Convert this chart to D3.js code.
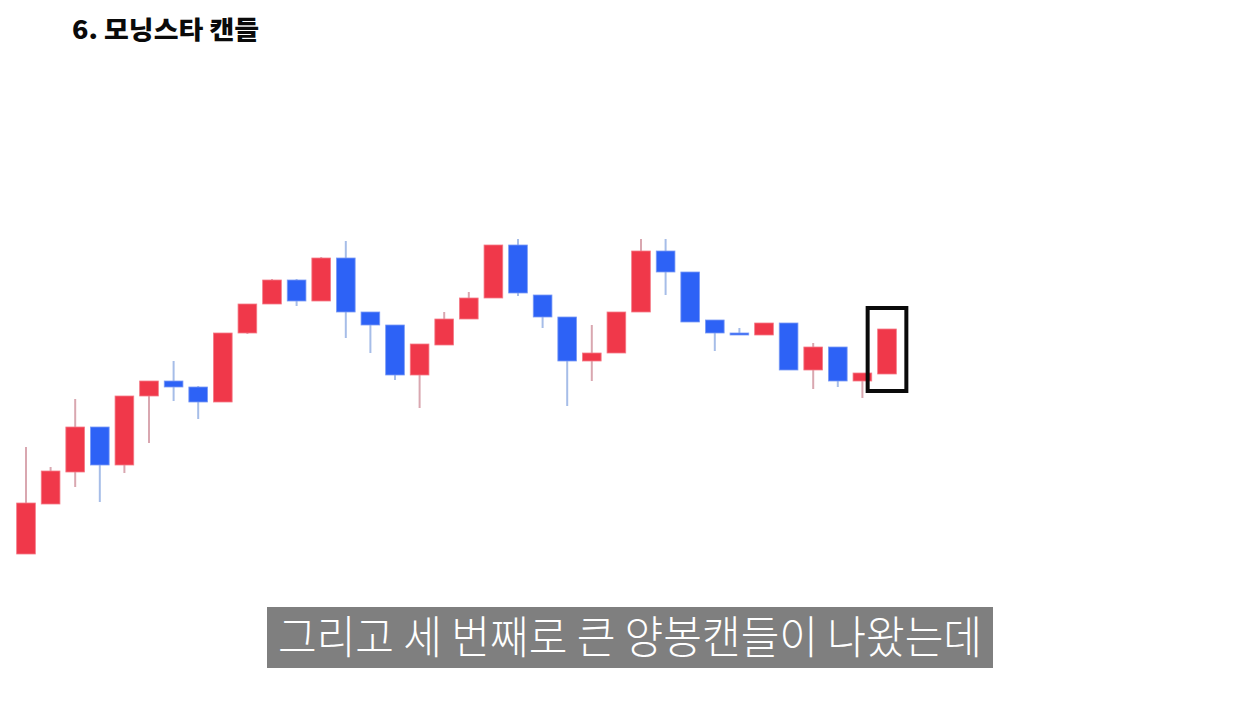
<!DOCTYPE html>
<html>
<head>
<meta charset="utf-8">
<script src="https://cdn.jsdelivr.net/npm/d3@7"></script>
<style>
  html, body { margin: 0; padding: 0; background: #ffffff; }
  svg { display: block; }
</style>
</head>
<body>
<svg id="chart" width="1260" height="704"></svg>
<script>
// ---- data ----
const titleText = "6. 모닝스타 캔들";
const captionText = "그리고 세 번째로 큰 양봉캔들이 나왔는데";
const candleIds = d3.range(1, 37);
const opens  = [1006,1056,1088,1133,1095,1164,1179,1173,1158,1227,1256,1280,1259,1302,1248,1235,1185,1215,1241,1262,1315,1265,1243,1199,1207,1248,1309,1288,1240,1227,1225,1237,1190,1213,1179,1186];
const closes = [1057,1089,1133,1095,1164,1179,1173,1158,1227,1256,1280,1259,1302,1248,1235,1185,1216,1241,1262,1315,1267,1243,1199,1207,1248,1309,1288,1238,1227,1225,1237,1190,1213,1179,1187,1231];
const highs  = [1113,1093,1161,1133,1164,1179,1199,1174,1227,1256,1281,1281,1303,1319,1248,1235,1216,1248,1268,1315,1321,1265,1243,1235,1248,1321,1321,1288,1240,1232,1237,1237,1217,1213,1187,1231];
const lows   = [1006,1056,1073,1058,1087,1117,1159,1141,1158,1226,1256,1254,1259,1222,1207,1180,1152,1215,1241,1262,1264,1232,1154,1179,1207,1248,1265,1238,1209,1225,1225,1190,1171,1173,1162,1186];
const highlighted = [36];

const candles = candleIds.map((id, i) => ({
  id, open: opens[i], close: closes[i], high: highs[i], low: lows[i]
}));

// ---- layout ----
const svg = d3.select("#chart");
const upColor = "#f0384a", downColor = "#2d62f6";
const upWick = "#d9a7b0", downWick = "#a6bde8";

const x = d3.scalePoint().domain(candleIds).range([26, 887]);
const y = d3.scaleLinear().domain([1000, 1340]).range([560, 220]);
const bodyW = x.step() * 0.76;

// title
svg.append("text")
  .attr("x", 72).attr("y", 39)
  .attr("font-family", "'Noto Sans CJK KR', 'Noto Sans', sans-serif")
  .attr("font-weight", 900)
  .attr("font-size", 25)
  .attr("fill", "#0a0a0a")
  .attr("textLength", 187)
  .attr("lengthAdjust", "spacingAndGlyphs")
  .text(titleText);

const g = svg.append("g");

// wicks
g.selectAll("line.wick").data(candles).join("line")
  .attr("class", "wick")
  .attr("x1", d => x(d.id)).attr("x2", d => x(d.id))
  .attr("y1", d => y(d.high)).attr("y2", d => y(d.low))
  .attr("stroke", d => d.close >= d.open ? upWick : downWick)
  .attr("stroke-width", 2);

// bodies
g.selectAll("rect.body").data(candles).join("rect")
  .attr("class", "body")
  .attr("x", d => x(d.id) - bodyW / 2)
  .attr("width", bodyW)
  .attr("y", d => y(Math.max(d.open, d.close)))
  .attr("height", d => Math.max(2, Math.abs(y(d.open) - y(d.close))))
  .attr("fill", d => d.close >= d.open ? upColor : downColor)
  .attr("stroke", d => d.close >= d.open ? "#f47c88" : "#7b9bf5")
  .attr("stroke-width", 0.8);

// highlight box around the morning-star third candle
const hl = candles.filter(d => highlighted.includes(d.id));
g.selectAll("rect.hl").data(hl).join("rect")
  .attr("class", "hl")
  .attr("x", d => x(d.id) - bodyW / 2 - 10)
  .attr("width", bodyW + 20)
  .attr("y", d => y(d.high) - 21)
  .attr("height", d => y(d.low) - y(d.high) + 38)
  .attr("fill", "none")
  .attr("stroke", "#0a0a0a")
  .attr("stroke-width", 4);

// caption
svg.append("rect")
  .attr("x", 267).attr("y", 607)
  .attr("width", 726).attr("height", 61)
  .attr("fill", "#7f7f7f");
svg.append("text")
  .attr("x", 278).attr("y", 654)
  .attr("font-family", "'Noto Sans CJK KR', 'Noto Sans', sans-serif")
  .attr("font-weight", 300)
  .attr("font-size", 45)
  .attr("fill", "#ffffff")
  .attr("textLength", 704)
  .attr("lengthAdjust", "spacingAndGlyphs")
  .text(captionText);
</script>
</body>
</html>
